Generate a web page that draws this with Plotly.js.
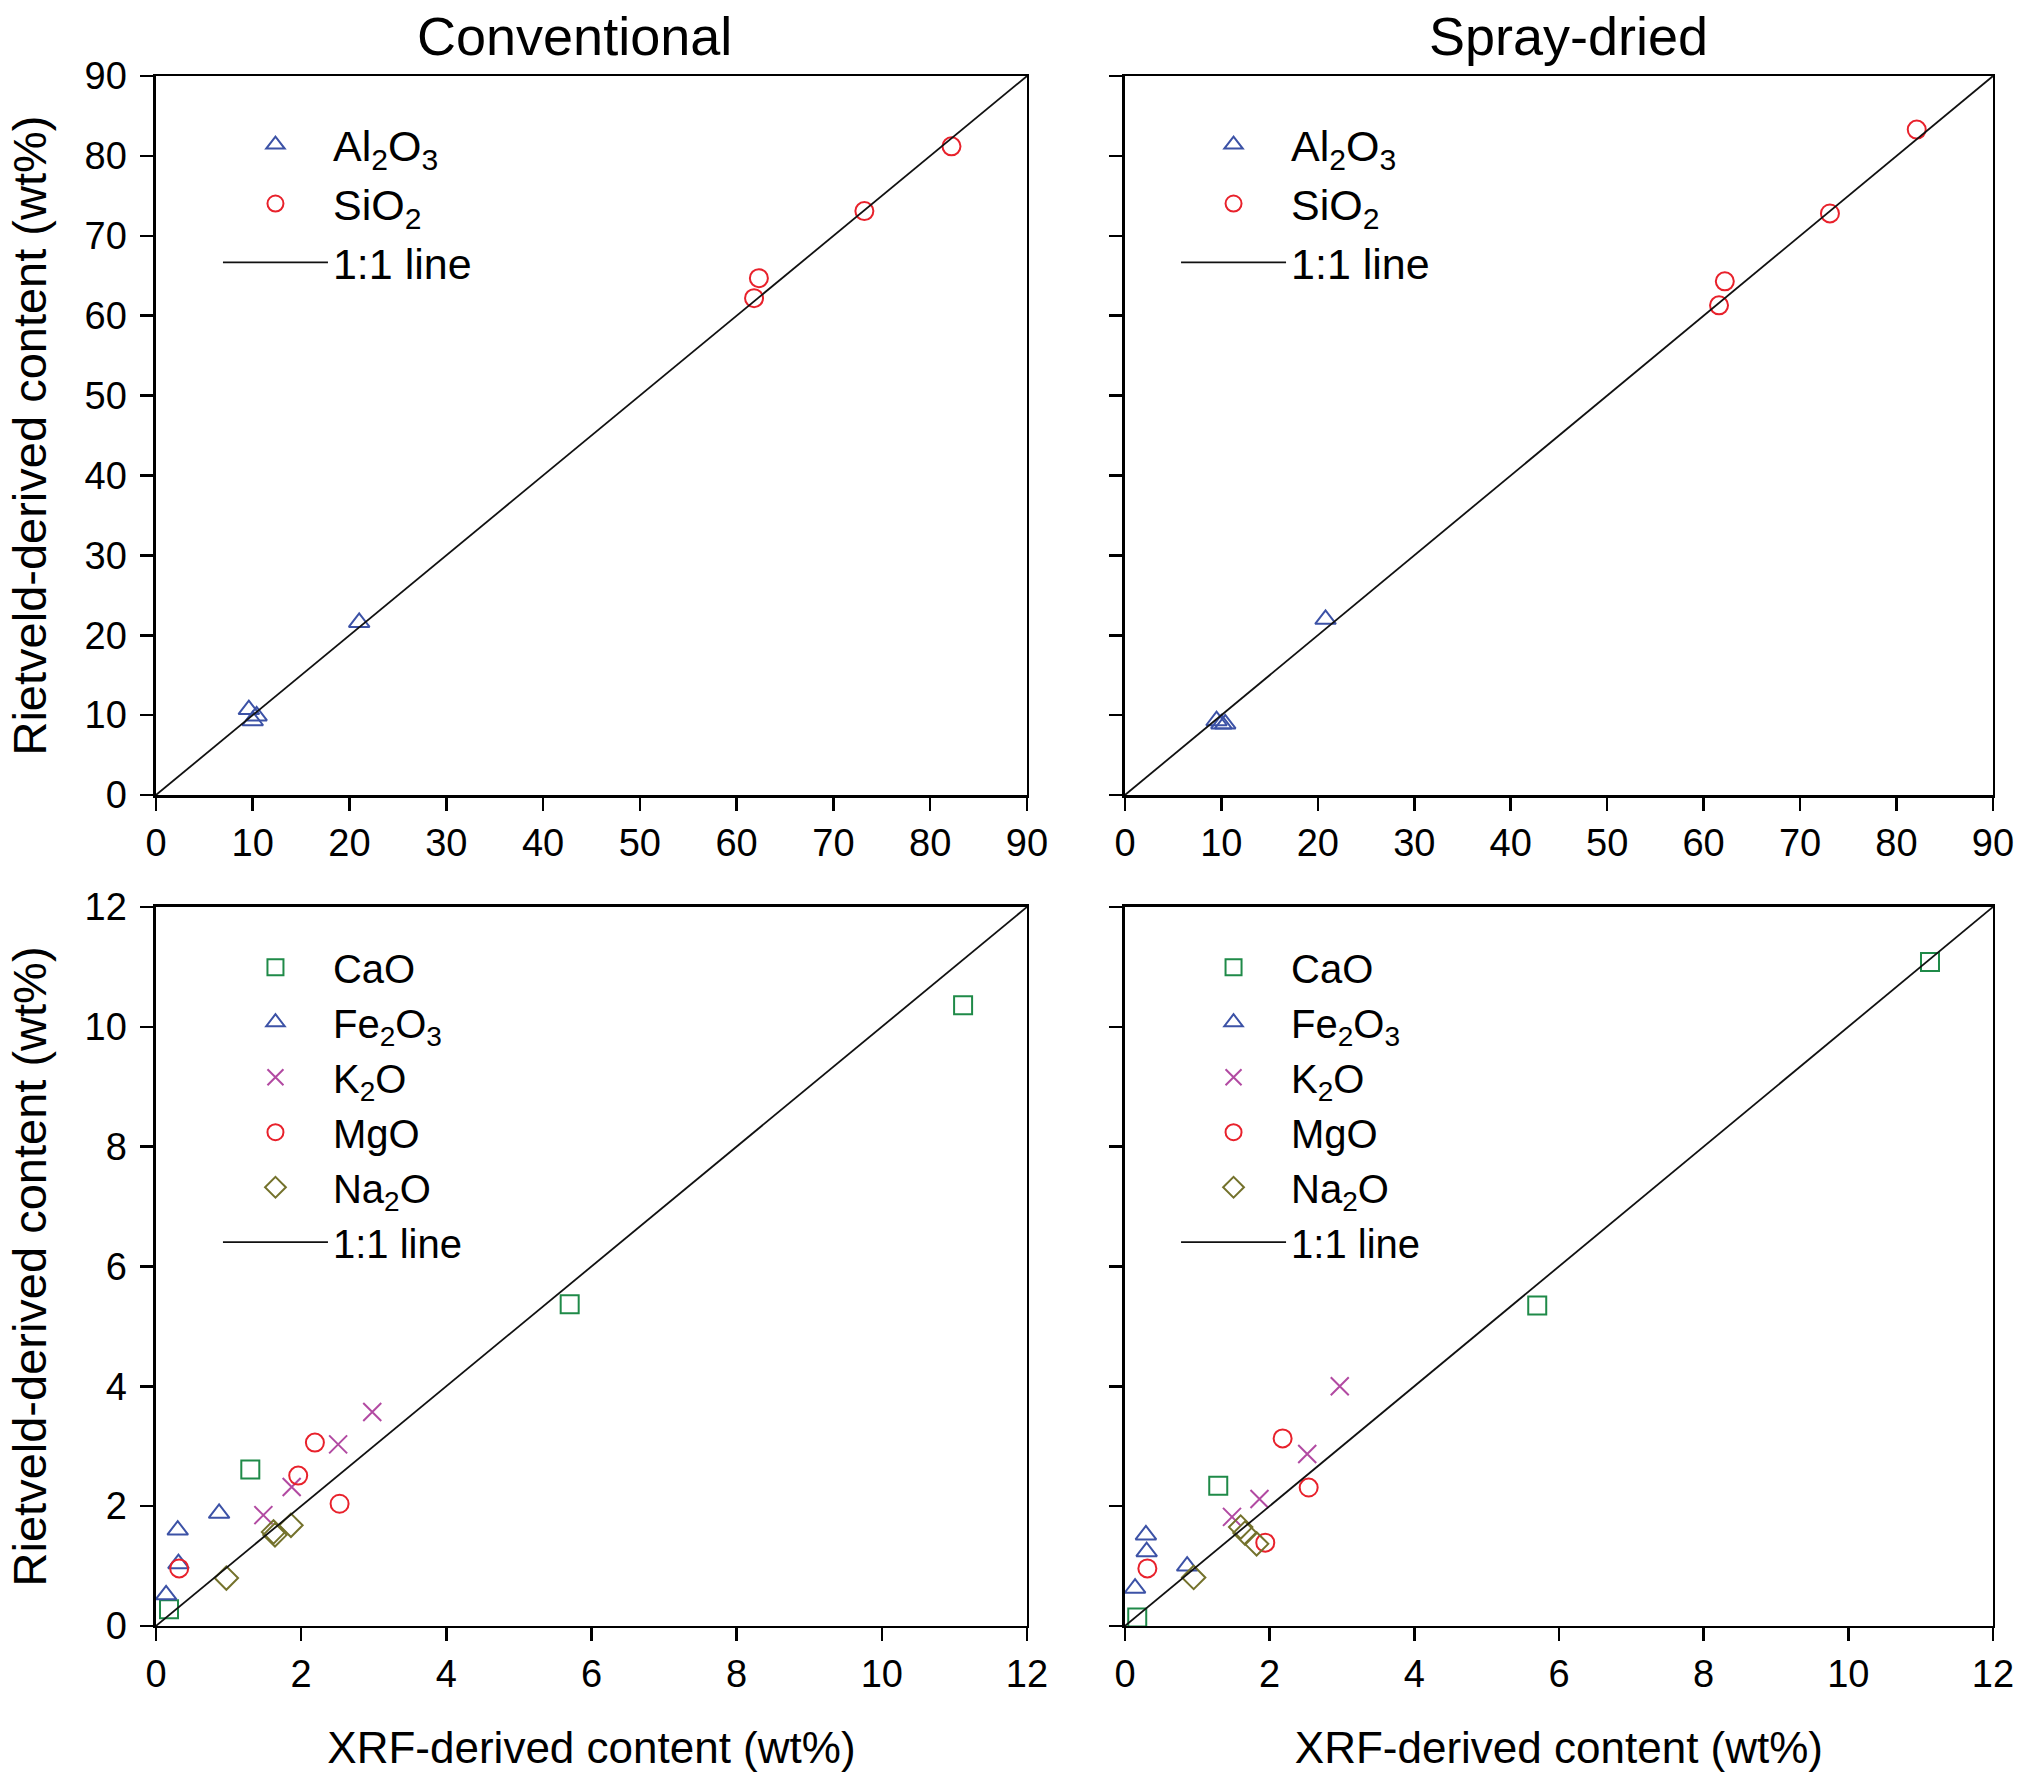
<!DOCTYPE html>
<html>
<head>
<meta charset="utf-8">
<script src="https://cdn.plot.ly/plotly-3.0.1.min.js"></script>
<style>html,body{margin:0;padding:0;background:#fff;}#chart{width:2020px;height:1777px;}</style>
</head>
<body>
<div id="chart"></div>
<script>
// ---- Data ----
// Top panels: major oxides, range 0-90 wt%
const convAl2O3_x = [9.6, 10.0, 10.4, 21.0];
const convAl2O3_y = [10.7, 9.3, 9.9, 21.6];
const convSiO2_x  = [61.8, 62.3, 73.2, 82.2];
const convSiO2_y  = [62.2, 64.7, 73.1, 81.2];

const sprayAl2O3_x = [9.5, 10.0, 10.4, 20.8];
const sprayAl2O3_y = [9.3, 8.9, 8.9, 22.0];
const spraySiO2_x  = [61.6, 62.2, 73.1, 82.1];
const spraySiO2_y  = [61.3, 64.3, 72.8, 83.3];

// Bottom panels: minor oxides, range 0-12 wt%
const convCaO_x   = [11.12, 5.70, 1.30, 0.18];
const convCaO_y   = [10.36, 5.37, 2.61, 0.28];
const convFe2O3_x = [0.30, 0.87, 0.14, 0.31];
const convFe2O3_y = [1.60, 1.88, 0.52, 1.04];
const convK2O_x   = [2.98, 2.51, 1.87, 1.48];
const convK2O_y   = [3.57, 3.03, 2.32, 1.85];
const convMgO_x   = [2.19, 1.96, 2.53, 0.32];
const convMgO_y   = [3.06, 2.51, 2.04, 0.96];
const convNa2O_x  = [1.86, 1.62, 1.64, 0.97];
const convNa2O_y  = [1.68, 1.57, 1.52, 0.80];

const sprayCaO_x   = [11.13, 5.70, 1.29, 0.17];
const sprayCaO_y   = [11.08, 5.35, 2.34, 0.14];
const sprayFe2O3_x = [0.29, 0.30, 0.86, 0.14];
const sprayFe2O3_y = [1.52, 1.24, 1.00, 0.63];
const sprayK2O_x   = [2.97, 2.52, 1.86, 1.48];
const sprayK2O_y   = [4.00, 2.87, 2.12, 1.82];
const sprayMgO_x   = [2.18, 2.54, 1.94, 0.31];
const sprayMgO_y   = [3.13, 2.31, 1.39, 0.96];
const sprayNa2O_x  = [1.60, 1.66, 1.82, 0.95];
const sprayNa2O_y  = [1.65, 1.55, 1.37, 0.81];

const lineTop = [0, 90];
const lineBottom = [0, 12];

const panelTitles = ["Conventional", "Spray-dried"];
const xTitle = "XRF-derived content (wt%)";
const yTitle = "Rietveld-derived content (wt%)";

// ---- Styles ----
const FONT = "Liberation Sans, Arial, Helvetica, sans-serif";
const C = {
  blue: "#3c52a6", red: "#e8212b", green: "#1f8a48", magenta: "#b24aa2", olive: "#74722c"
};
const MS = 18, MW = 2;

function pts(x, y, name, symbol, color, xa, ya, leg) {
  return {type: "scatter", mode: "markers", x: x, y: y, name: name,
    xaxis: xa, yaxis: ya, legend: leg, hoverinfo: "x+y",
    marker: {symbol: symbol, size: MS, color: color, line: {color: color, width: MW}}};
}
function oneToOne(v, xa, ya, leg) {
  return {type: "scatter", mode: "lines", x: v, y: v, name: "1:1 line",
    xaxis: xa, yaxis: ya, legend: leg, line: {color: "#111", width: 1.8}};
}

const data = [
  pts(convAl2O3_x, convAl2O3_y, "Al<sub>2</sub>O<sub>3</sub>", "triangle-up-open", C.blue, "x", "y", "legend"),
  pts(convSiO2_x, convSiO2_y, "SiO<sub>2</sub>", "circle-open", C.red, "x", "y", "legend"),
  oneToOne(lineTop, "x", "y", "legend"),

  pts(sprayAl2O3_x, sprayAl2O3_y, "Al<sub>2</sub>O<sub>3</sub>", "triangle-up-open", C.blue, "x2", "y2", "legend2"),
  pts(spraySiO2_x, spraySiO2_y, "SiO<sub>2</sub>", "circle-open", C.red, "x2", "y2", "legend2"),
  oneToOne(lineTop, "x2", "y2", "legend2"),

  pts(convCaO_x, convCaO_y, "CaO", "square-open", C.green, "x3", "y3", "legend3"),
  pts(convFe2O3_x, convFe2O3_y, "Fe<sub>2</sub>O<sub>3</sub>", "triangle-up-open", C.blue, "x3", "y3", "legend3"),
  pts(convK2O_x, convK2O_y, "K<sub>2</sub>O", "x-thin-open", C.magenta, "x3", "y3", "legend3"),
  pts(convMgO_x, convMgO_y, "MgO", "circle-open", C.red, "x3", "y3", "legend3"),
  pts(convNa2O_x, convNa2O_y, "Na<sub>2</sub>O", "diamond-open", C.olive, "x3", "y3", "legend3"),
  oneToOne(lineBottom, "x3", "y3", "legend3"),

  pts(sprayCaO_x, sprayCaO_y, "CaO", "square-open", C.green, "x4", "y4", "legend4"),
  pts(sprayFe2O3_x, sprayFe2O3_y, "Fe<sub>2</sub>O<sub>3</sub>", "triangle-up-open", C.blue, "x4", "y4", "legend4"),
  pts(sprayK2O_x, sprayK2O_y, "K<sub>2</sub>O", "x-thin-open", C.magenta, "x4", "y4", "legend4"),
  pts(sprayMgO_x, sprayMgO_y, "MgO", "circle-open", C.red, "x4", "y4", "legend4"),
  pts(sprayNa2O_x, sprayNa2O_y, "Na<sub>2</sub>O", "diamond-open", C.olive, "x4", "y4", "legend4"),
  oneToOne(lineBottom, "x4", "y4", "legend4")
];

const DX1 = [0.0772, 0.5084], DX2 = [0.5569, 0.9866];
const DYT = [0.5526, 0.9572], DYB = [0.0850, 0.4896];

function ax(domain, range, dtick, anchor, labels, title, isY) {
  const a = {domain: domain, range: range, dtick: dtick, tick0: 0, anchor: anchor,
    showline: true, mirror: true, linecolor: "#000", linewidth: 2.5,
    ticks: "outside", ticklen: 13, tickwidth: 2.5, tickcolor: "#000",
    showgrid: false, zeroline: false, showticklabels: labels,
    tickfont: {family: FONT, size: 38, color: "#000"}, fixedrange: true};
  if (isY) a.ticklabelstandoff = 6;
  if (title) a.title = title;
  return a;
}
const xTitleObj = {text: xTitle, font: {family: FONT, size: 44, color: "#000"}, standoff: 38};
const yTitleObj = {text: yTitle, font: {family: FONT, size: 47, color: "#000"}, standoff: 23};

const legBase = {bgcolor: "rgba(0,0,0,0)", borderwidth: 0, xanchor: "left", yanchor: "top",
  itemsizing: "trace", itemwidth: 105, tracegroupgap: 0};

const layout = {
  width: 2020, height: 1777,
  margin: {l: 0, r: 0, t: 0, b: 0},
  paper_bgcolor: "#fff", plot_bgcolor: "#fff",
  showlegend: true,
  font: {family: FONT, color: "#000"},
  xaxis:  ax(DX1, [0, 90], 10, "y", true),
  yaxis:  ax(DYT, [0, 90], 10, "x", true, yTitleObj, true),
  xaxis2: ax(DX2, [0, 90], 10, "y2", true),
  yaxis2: ax(DYT, [0, 90], 10, "x2", false, null, true),
  xaxis3: ax(DX1, [0, 12], 2, "y3", true, xTitleObj),
  yaxis3: ax(DYB, [0, 12], 2, "x3", true, yTitleObj, true),
  xaxis4: ax(DX2, [0, 12], 2, "y4", true, xTitleObj),
  yaxis4: ax(DYB, [0, 12], 2, "x4", false, null, true),
  legend:  Object.assign({}, legBase, {x: 0.1079, y: 0.938, font: {family: FONT, size: 43, color: "#000"}}),
  legend2: Object.assign({}, legBase, {x: 0.5822, y: 0.938, font: {family: FONT, size: 43, color: "#000"}}),
  legend3: Object.assign({}, legBase, {x: 0.1079, y: 0.474, font: {family: FONT, size: 40, color: "#000"}}),
  legend4: Object.assign({}, legBase, {x: 0.5822, y: 0.474, font: {family: FONT, size: 40, color: "#000"}}),
  annotations: [
    {text: panelTitles[0], xref: "paper", yref: "paper", x: 0.2845, y: 0.98, xanchor: "center", yanchor: "middle",
     showarrow: false, font: {family: FONT, size: 54, color: "#000"}},
    {text: panelTitles[1], xref: "paper", yref: "paper", x: 0.7767, y: 0.98, xanchor: "center", yanchor: "middle",
     showarrow: false, font: {family: FONT, size: 54, color: "#000"}}
  ]
};

Plotly.newPlot("chart", data, layout, {displayModeBar: false, staticPlot: true});
</script>
</body>
</html>
